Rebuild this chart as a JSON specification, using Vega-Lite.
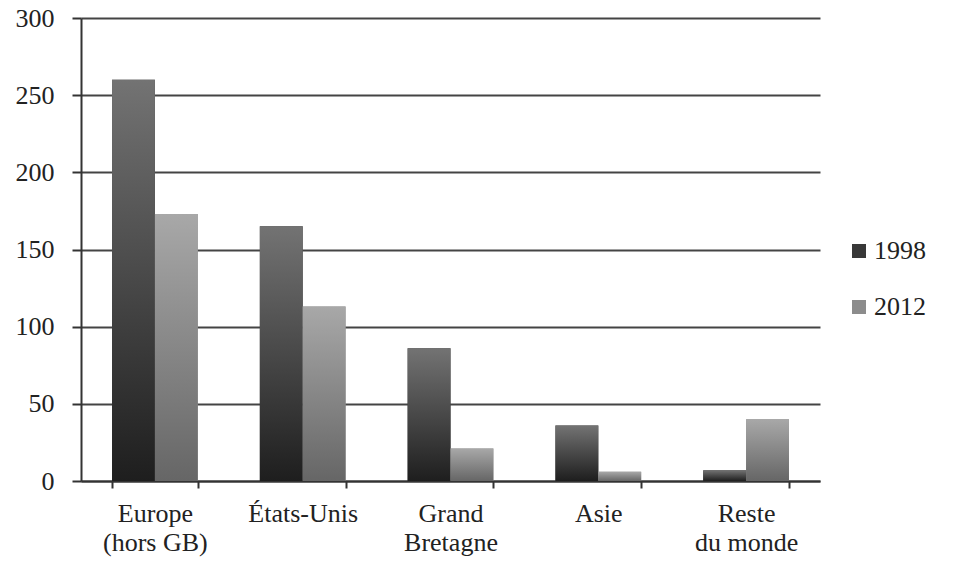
{
  "$schema": "https://vega.github.io/schema/vega-lite/v6.json",
  "width": 739,
  "height": 463,
  "autosize": "none",
  "padding": {"left": 81, "top": 18, "right": 135, "bottom": 83},
  "background": "white",
  "data": {
    "values": [
      {"region": "Europe\n(hors GB)", "year": "1998", "value": 260},
      {"region": "Europe\n(hors GB)", "year": "2012", "value": 173},
      {"region": "États-Unis", "year": "1998", "value": 165},
      {"region": "États-Unis", "year": "2012", "value": 113},
      {"region": "Grand\nBretagne", "year": "1998", "value": 86},
      {"region": "Grand\nBretagne", "year": "2012", "value": 21},
      {"region": "Asie", "year": "1998", "value": 36},
      {"region": "Asie", "year": "2012", "value": 6},
      {"region": "Reste\ndu monde", "year": "1998", "value": 7},
      {"region": "Reste\ndu monde", "year": "2012", "value": 40}
    ]
  },
  "config": {
    "view": {"stroke": null},
    "font": "Liberation Serif",
    "axis": {"labelFont": "Liberation Serif", "labelColor": "#222", "labelFontSize": 26},
    "legend": {"labelFont": "Liberation Serif", "labelFontSize": 26}
  },
  "encoding": {
    "x": {
      "field": "region",
      "type": "nominal",
      "sort": null,
      "scale": {"paddingInner": 0.42, "paddingOuter": 0.21},
      "axis": {
        "title": null,
        "labelAngle": 0,
        "labelExpr": "split(datum.label, '\\n')",
        "labelFont": "Liberation Serif",
        "labelLineHeight": 29,
        "labelPadding": 12,
        "labelBaseline": "top",
        "tickBand": "extent",
        "tickSize": 7,
        "tickWidth": 2,
        "tickColor": "#333",
        "domainColor": "#333",
        "domainWidth": 2,
        "grid": false
      }
    },
    "xOffset": {"field": "year", "type": "nominal"},
    "y": {
      "field": "value",
      "type": "quantitative",
      "scale": {"domain": [0, 300], "nice": false},
      "axis": {
        "title": null,
        "values": [0, 50, 100, 150, 200, 250, 300],
        "labelFont": "Liberation Serif",
        "tickSize": 9,
        "tickWidth": 2,
        "tickColor": "#333",
        "domainColor": "#333",
        "domainWidth": 2,
        "labelPadding": 18,
        "grid": true,
        "gridColor": "#444",
        "gridWidth": 2
      }
    }
  },
  "layer": [
    {
      "mark": {"type": "bar"},
      "encoding": {
        "color": {
          "field": "year",
          "type": "nominal",
          "scale": {"domain": ["1998", "2012"], "range": ["#383838", "#8c8c8c"]},
          "legend": {
            "title": null,
            "orient": "none",
            "legendX": 765,
            "legendY": 220,
            "symbolType": "square",
            "symbolSize": 196,
            "symbolStrokeWidth": 0,
            "symbolOpacity": 1,
            "labelFont": "Liberation Serif",
            "labelFontSize": 26,
            "labelColor": "#222",
            "rowPadding": 30,
            "labelOffset": 2
          }
        }
      }
    },
    {
      "mark": {"type": "bar"},
      "encoding": {
        "color": {
          "condition": {
            "test": "datum.year === '1998'",
            "value": {"gradient": "linear", "x1": 0, "y1": 1, "x2": 0, "y2": 0, "stops": [{"offset": 0, "color": "#1e1e1e"}, {"offset": 1, "color": "#737373"}]}
          },
          "value": {"gradient": "linear", "x1": 0, "y1": 1, "x2": 0, "y2": 0, "stops": [{"offset": 0, "color": "#666666"}, {"offset": 1, "color": "#a8a8a8"}]}
        }
      }
    }
  ]
}
